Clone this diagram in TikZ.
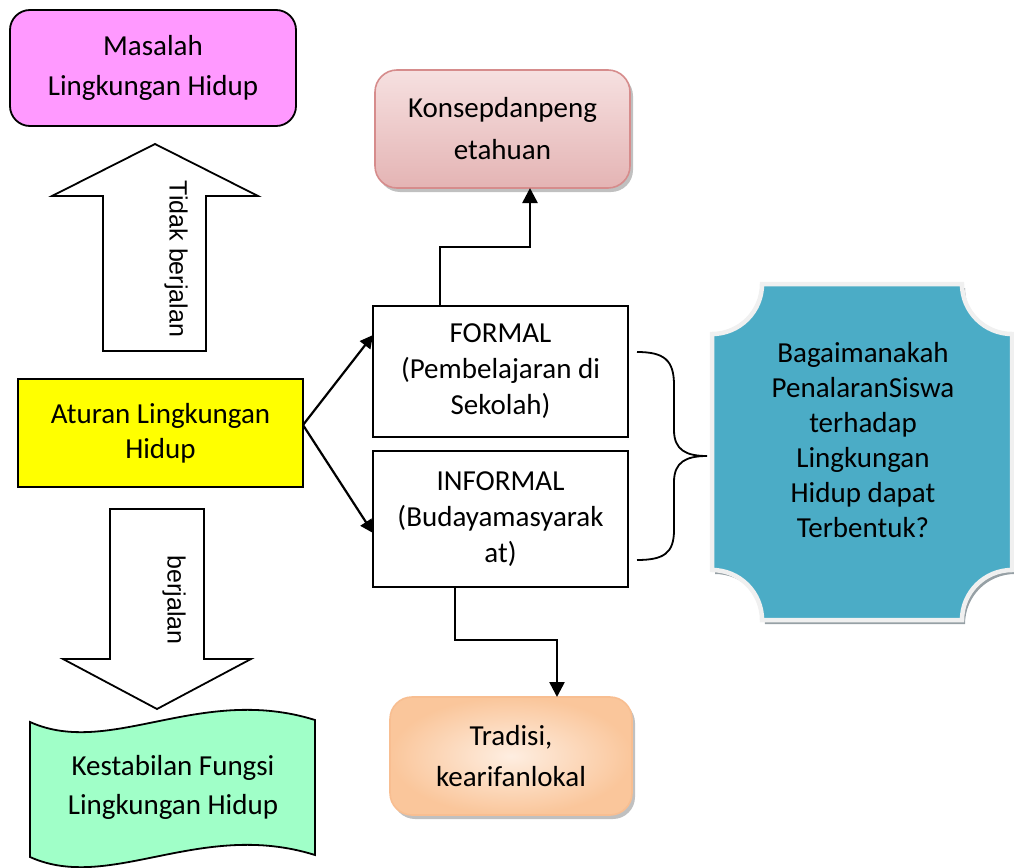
\documentclass[tikz,border=0pt]{standalone}
\usepackage{fontspec}
\setmainfont{Carlito}
\newfontfamily\arialf{Liberation Sans}
\usetikzlibrary{arrows.meta,shadows}
\definecolor{pinkbox}{RGB}{255,153,255}
\definecolor{yellowbox}{RGB}{255,255,0}
\definecolor{mintbox}{RGB}{160,255,200}
\definecolor{tealbox}{RGB}{75,172,198}
\definecolor{tealedge}{RGB}{240,240,240}
\definecolor{tealshadow}{RGB}{150,160,165}
\definecolor{konsepTop}{RGB}{246,224,224}
\definecolor{konsepBot}{RGB}{228,180,180}
\definecolor{konsepEdge}{RGB}{214,140,140}
\definecolor{tradIn}{RGB}{254,238,225}
\definecolor{tradOut}{RGB}{250,198,155}
\definecolor{tradEdge}{RGB}{248,190,145}
\begin{document}
\begin{tikzpicture}[x=1pt,y=-1pt,
  box/.style={draw=black, line width=1.8pt, inner sep=0pt, outer sep=0pt, align=center},
  txt/.style={align=center, inner sep=0pt},
  conn/.style={line width=2.6pt, -{Triangle[length=15pt,width=15pt]}},
  thinconn/.style={line width=2.2pt, -{Triangle[length=13pt,width=13pt]}},
  blockarrow/.style={draw=black, line width=1.8pt, fill=white, line join=miter},
  vtext/.style={rotate=-90, inner sep=0pt, font=\arialf\fontsize{25}{30}\selectfont},
  softshadow/.style={drop shadow={shadow xshift=3pt, shadow yshift=-4pt, fill=black!45, opacity=0.55}}
]
\useasboundingbox (0,0) rectangle (1014,867);

% top-left box
\node[box, fill=pinkbox, rounded corners=20pt, minimum width=286pt, minimum height=116pt,
      font=\fontsize{29}{40}\selectfont] (masalah) at (153,68) {Masalah\\Lingkungan Hidup};

% up block arrow
\draw[blockarrow] (103,351) -- (103,196) -- (52,196) -- (155,144) -- (258,196) -- (206,196) -- (206,351) -- cycle;
\node[vtext] (tidak) at (176,259) {Tidak berjalan};

% yellow box
\node[box, fill=yellowbox, minimum width=285pt, minimum height=108pt,
      font=\fontsize{29}{35}\selectfont] (aturan) at (160.5,433) {Aturan Lingkungan\\Hidup};

% down block arrow
\draw[blockarrow] (110,509) -- (204,509) -- (204,659) -- (251,659) -- (157,709) -- (63,659) -- (110,659) -- cycle;
\node[vtext] (jalan) at (174,600) {berjalan};

% wave
\draw[line width=1.8pt, fill=mintbox] (30,722) .. controls (110,758) and (200,684) .. (315,720)
   -- (315,855) .. controls (200,819) and (110,893) .. (30,857) -- cycle;
\node[txt, font=\fontsize{29}{39}\selectfont] (kestabilan) at (173,787) {Kestabilan Fungsi\\Lingkungan Hidup};

% konsep box
\node[box, draw=konsepEdge, line width=1.6pt, rounded corners=22pt, top color=konsepTop, bottom color=konsepBot,
      softshadow, minimum width=255pt, minimum height=118pt,
      font=\fontsize{29}{42}\selectfont] (konsep) at (502.5,129) {Konsepdanpeng\\etahuan};

% formal / informal
\node[box, fill=white, minimum width=255pt, minimum height=131pt,
      font=\fontsize{29}{36}\selectfont] (formal) at (500.5,371.5) {FORMAL\\(Pembelajaran di\\Sekolah)};
\node[box, fill=white, minimum width=255pt, minimum height=136pt,
      font=\fontsize{29}{36}\selectfont] (informal) at (500.5,519) {INFORMAL\\(Budayamasyarak\\at)};

% tradisi box
\node[box, draw=tradEdge, line width=1.6pt, rounded corners=22pt, inner color=tradIn, outer color=tradOut,
      softshadow, minimum width=242pt, minimum height=118pt,
      font=\fontsize{29}{41}\selectfont] (tradisi) at (511,756) {Tradisi,\\kearifanlokal};

% connectors
\draw[thinconn] ([yshift=8pt]aturan.east) -- ([yshift=36.5pt]formal.west);
\draw[thinconn] ([yshift=8pt]aturan.east) -- ([yshift=-14pt]informal.west);
\draw[conn] ([xshift=-60.5pt]formal.north) -- ++(0,-59) -| ([xshift=27.5pt]konsep.south);
\draw[conn] ([xshift=-45.5pt]informal.south) -- ++(0,53) -| ([xshift=46pt]tradisi.north);

% brace
\draw[line width=1.8pt] (637,352) .. controls (664,352) and (674,360) .. (674,385) -- (674,430)
  .. controls (674,450) and (686,456) .. (707,456)
  .. controls (686,456) and (674,462) .. (674,482) -- (674,530)
  .. controls (674,553) and (664,560) .. (637,560);

% plaque
\fill[tealshadow] (765,288) -- (965,288) .. controls (965,315.6) and (987.4,338) .. (1015,338) -- (1015,574)
  .. controls (987.4,574) and (965,596.4) .. (965,624) -- (765,624)
  .. controls (765,596.4) and (742.6,574) .. (715,574) -- (715,338)
  .. controls (742.6,338) and (765,315.6) .. (765,288) -- cycle;
\draw[line width=4.5pt, draw=tealedge, fill=tealbox] (762,284) -- (962,284) .. controls (962,311.6) and (984.4,334) .. (1012,334) -- (1012,570)
  .. controls (984.4,570) and (962,592.4) .. (962,620) -- (762,620)
  .. controls (762,592.4) and (739.6,570) .. (712,570) -- (712,334)
  .. controls (739.6,334) and (762,311.6) .. (762,284) -- cycle;
\node[txt, font=\fontsize{29}{35}\selectfont] (tanya) at (863,440) {Bagaimanakah\\PenalaranSiswa\\terhadap\\Lingkungan\\Hidup dapat\\Terbentuk?};
\end{tikzpicture}
\end{document}
